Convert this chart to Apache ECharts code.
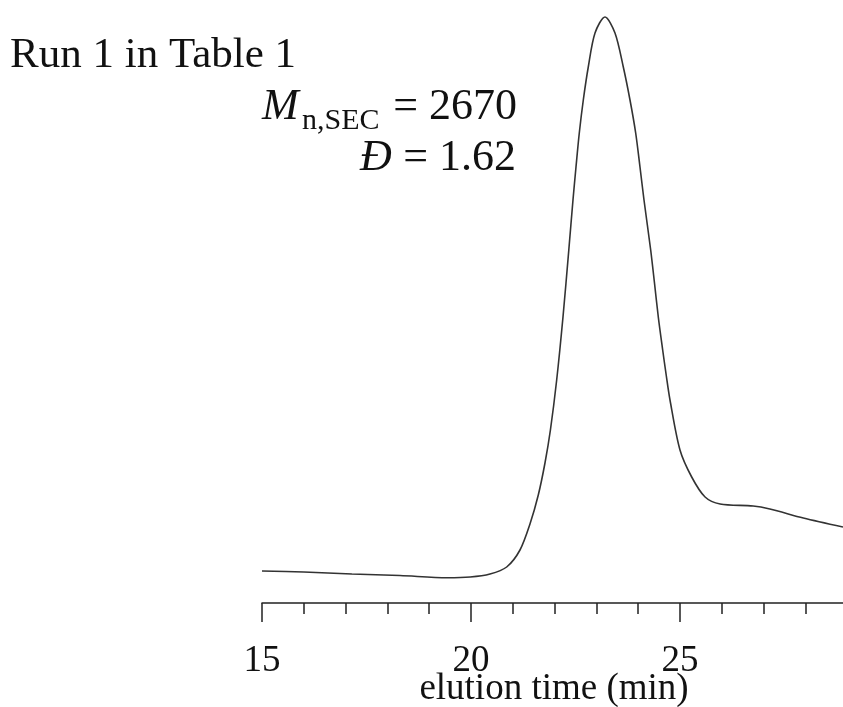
<!DOCTYPE html>
<html>
<head>
<meta charset="utf-8">
<script src="https://cdn.jsdelivr.net/npm/echarts@6/dist/echarts.min.js"></script>
<style>html,body{margin:0;padding:0;background:#fff}#c{width:843px;height:707px}</style>
</head>
<body>
<div id="c"></div>
<script>
// elution time (min)
const times = [15.00, 16.00, 17.15, 18.30, 19.43, 19.98, 20.455, 20.854, 21.172, 21.411, 21.610, 21.770, 21.900, 22.050, 22.201, 22.340, 22.440, 22.512, 22.591, 22.687, 22.806, 22.967, 23.206, 23.445, 23.644, 23.804, 23.940, 24.043, 24.139, 24.299, 24.390, 24.481, 24.586, 24.67, 24.761, 25.00, 25.28, 25.60, 25.96, 26.75, 27.15, 27.95, 28.90];
// detector response (arbitrary units)
const signal = [32, 31, 29, 27.5, 25.3, 26, 29, 36, 53, 79, 108, 140, 173, 223, 286, 353, 403, 436, 470, 503, 536, 570, 586, 570, 536, 503, 470, 436, 403, 353, 320, 286, 253, 228, 203, 153, 126, 106, 99, 97, 94, 85, 76];
const majorTicks = [15, 20, 25];
const minorTicks = [16, 17, 18, 19, 21, 22, 23, 24, 26, 27, 28];
const titleText = 'Run 1 in Table 1';
const mnValue = '2670';
const dispersity = '1.62';
const axisTitle = 'elution time (min)';

const serif = '"Liberation Serif", "Times New Roman", serif';
const xMin = 15, xMax = 28.9;
const chart = echarts.init(document.getElementById('c'), null, {renderer: 'canvas'});
chart.setOption({
  animation: false,
  backgroundColor: '#fff',
  grid: {left: 262, right: 0, top: 17, bottom: 104, containLabel: false},
  xAxis: [{
    type: 'value', min: xMin, max: xMax, position: 'bottom',
    axisLine: {show: true, onZero: false, lineStyle: {color: '#222', width: 1.5}},
    axisTick: {show: true, inside: false, length: 19, customValues: majorTicks, lineStyle: {color: '#222', width: 1.5}},
    splitLine: {show: false},
    axisLabel: {margin: 40, color: '#111', fontFamily: serif, fontSize: 37, customValues: majorTicks}
  }, {
    type: 'value', min: xMin, max: xMax, position: 'bottom', offset: 0,
    axisLine: {show: false, onZero: false},
    axisTick: {show: true, inside: false, length: 11, customValues: minorTicks, lineStyle: {color: '#222', width: 1.5}},
    splitLine: {show: false},
    axisLabel: {show: false}
  }],
  yAxis: {type: 'value', min: 0, max: 586, show: false},
  series: [{
    type: 'line', xAxisIndex: 0, data: times.map((t, i) => [t, signal[i]]),
    smooth: 0.3, showSymbol: false, clip: false,
    lineStyle: {color: '#333', width: 1.6}
  }],
  graphic: [
    {type: 'text', x: 10, y: 34, style: {text: titleText, font: '43px ' + serif, fill: '#111', verticalAlign: 'top'}},
    {type: 'text', x: 262, y: 85, style: {text: 'M', font: 'italic 44px ' + serif, fill: '#111', verticalAlign: 'top'}},
    {type: 'text', x: 302, y: 106, style: {text: 'n,SEC', font: '30px ' + serif, fill: '#111', verticalAlign: 'top'}},
    {type: 'text', x: 517, y: 85, style: {text: '= ' + mnValue, font: '44px ' + serif, fill: '#111', align: 'right', verticalAlign: 'top'}},
    {type: 'text', x: 360, y: 136, style: {text: 'Đ', font: 'italic 44px ' + serif, fill: '#111', verticalAlign: 'top'}},
    {type: 'text', x: 516, y: 136, style: {text: '= ' + dispersity, font: '44px ' + serif, fill: '#111', align: 'right', verticalAlign: 'top'}},
    {type: 'text', x: 554, y: 671, style: {text: axisTitle, font: '37px ' + serif, fill: '#111', align: 'center', verticalAlign: 'top'}}
  ]
});
</script>
</body>
</html>
